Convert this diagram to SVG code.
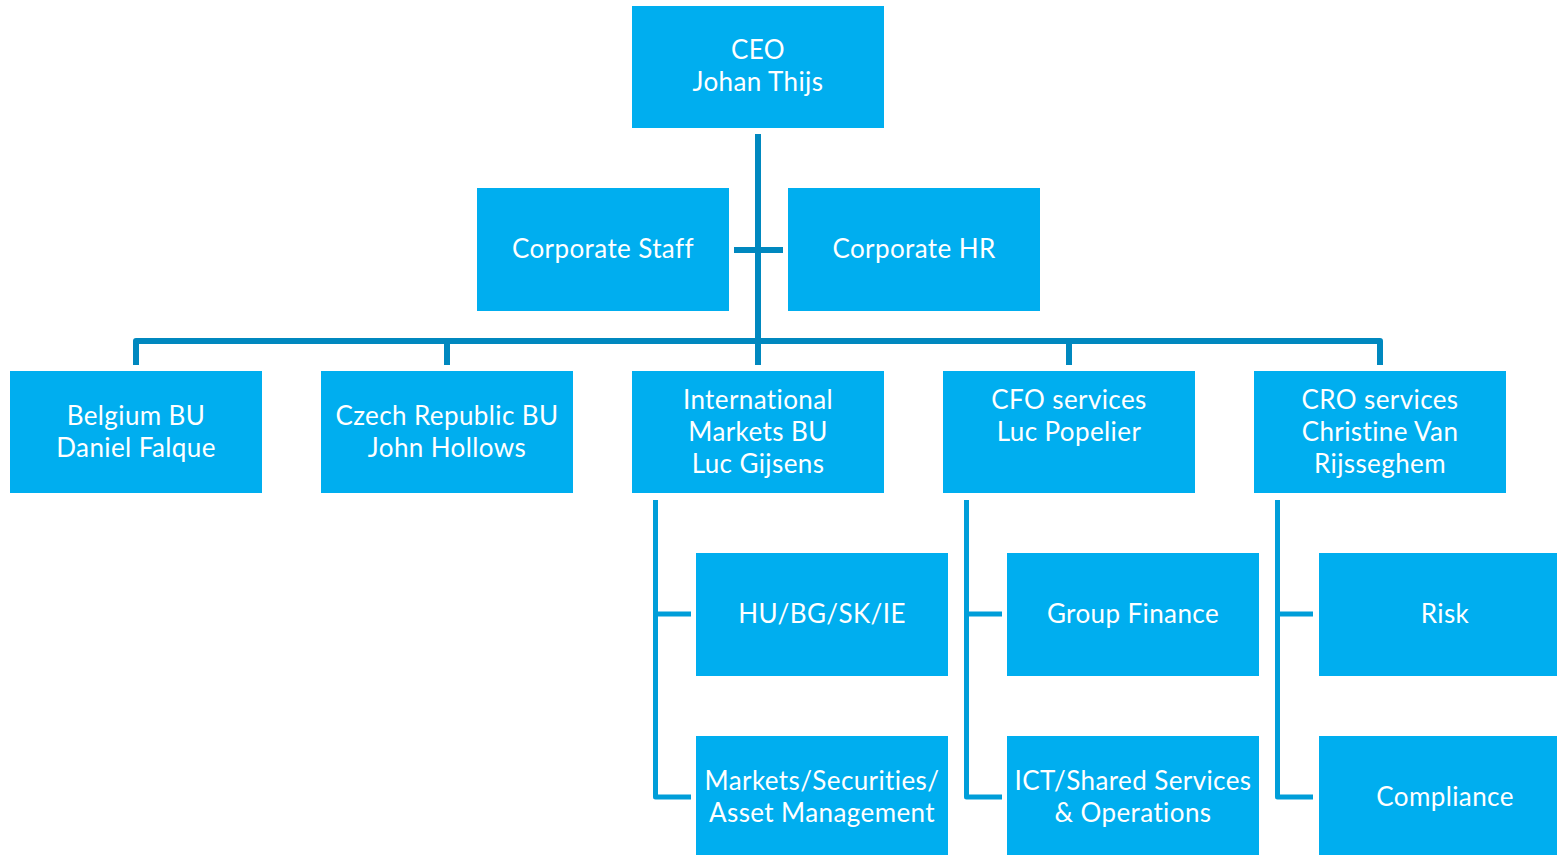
<svg xmlns="http://www.w3.org/2000/svg" width="1557" height="855" viewBox="0 0 1557 855">
<style>
.box{fill:#00AEEF}
.t{font-family:Lato,"Liberation Sans",sans-serif;font-size:26px;letter-spacing:0.4px;fill:#FFFFFF;text-anchor:middle}
.main{fill:none;stroke:#0088BF;stroke-width:6;stroke-linejoin:round}
.sub{fill:none;stroke:#009ED9;stroke-width:5;stroke-linejoin:round}
</style>
<rect width="1557" height="855" fill="#FFFFFF"/>
<g id="connectors">
<path class="main" d="M758,134 V365"/>
<path class="main" d="M734,250 H783"/>
<path class="main" d="M136,365 V341 H1380 V365"/>
<path class="main" d="M447,341 V365"/>
<path class="main" d="M1069,341 V365"/>
<path class="sub" d="M655.5,500 V797 H691 M655.5,614 H691"/>
<path class="sub" d="M966.5,500 V797 H1002 M966.5,614 H1002"/>
<path class="sub" d="M1277.5,500 V797 H1313 M1277.5,614 H1313"/>
</g>
<g id="ceo"><rect class="box" x="632" y="6" width="252" height="122"/><text class="t" x="758" y="59">CEO</text><text class="t" x="758" y="91">Johan Thijs</text></g>
<g id="corporate-staff"><rect class="box" x="477" y="188" width="252" height="123"/><text class="t" x="603" y="258">Corporate Staff</text></g>
<g id="corporate-hr"><rect class="box" x="788" y="188" width="252" height="123"/><text class="t" x="914" y="258">Corporate HR</text></g>
<g id="belgium"><rect class="box" x="10" y="371" width="252" height="122"/><text class="t" x="136" y="425">Belgium BU</text><text class="t" x="136" y="457">Daniel Falque</text></g>
<g id="czech"><rect class="box" x="321" y="371" width="252" height="122"/><text class="t" x="447" y="425">Czech Republic BU</text><text class="t" x="447" y="457">John Hollows</text></g>
<g id="international"><rect class="box" x="632" y="371" width="252" height="122"/><text class="t" x="758" y="409">International</text><text class="t" x="758" y="441">Markets BU</text><text class="t" x="758" y="473">Luc Gijsens</text></g>
<g id="cfo"><rect class="box" x="943" y="371" width="252" height="122"/><text class="t" x="1069" y="409">CFO services</text><text class="t" x="1069" y="441">Luc Popelier</text></g>
<g id="cro"><rect class="box" x="1254" y="371" width="252" height="122"/><text class="t" x="1380" y="409">CRO services</text><text class="t" x="1380" y="441">Christine Van</text><text class="t" x="1380" y="473">Rijsseghem</text></g>
<g id="hu"><rect class="box" x="696" y="553" width="252" height="123"/><text class="t" x="822" y="623">HU/BG/SK/IE</text></g>
<g id="markets"><rect class="box" x="696" y="736" width="252" height="122"/><text class="t" x="822" y="790">Markets/Securities/</text><text class="t" x="822" y="822">Asset Management</text></g>
<g id="group-finance"><rect class="box" x="1007" y="553" width="252" height="123"/><text class="t" x="1133" y="623">Group Finance</text></g>
<g id="ict"><rect class="box" x="1007" y="736" width="252" height="122"/><text class="t" x="1133" y="790">ICT/Shared Services</text><text class="t" x="1133" y="822">&amp; Operations</text></g>
<g id="risk"><rect class="box" x="1319" y="553" width="252" height="123"/><text class="t" x="1445" y="623">Risk</text></g>
<g id="compliance"><rect class="box" x="1319" y="736" width="252" height="122"/><text class="t" x="1445" y="806">Compliance</text></g>
</svg>
